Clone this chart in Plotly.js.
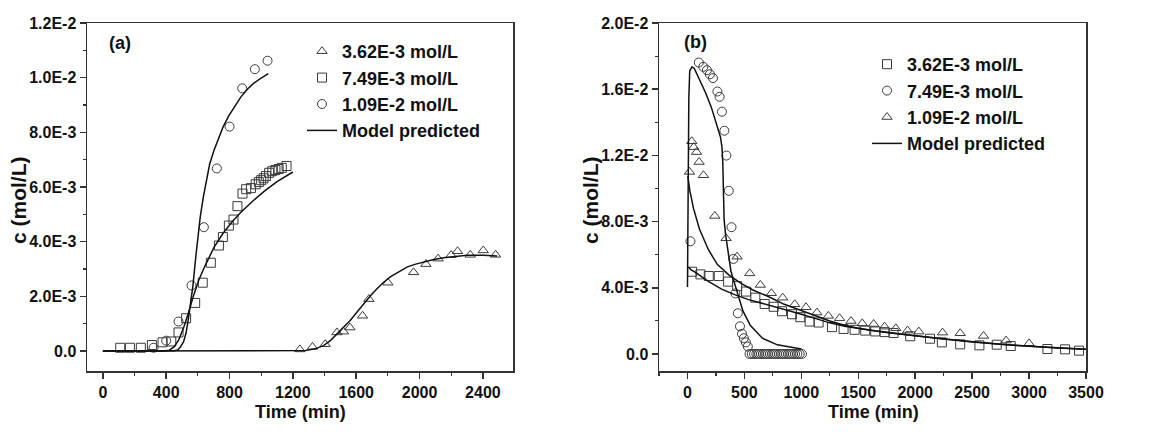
<!DOCTYPE html>
<html>
<head>
<meta charset="utf-8">
<script src="https://cdn.plot.ly/plotly-3.0.1.min.js"></script>
<style>html,body{margin:0;padding:0;background:#fff;}#chart{width:1159px;height:432px;}</style>
</head>
<body>
<div id="chart"></div>
<script>
// ---------- Panel (a): c in units of 1E-3 mol/L ----------
const aTriT = [1244,1324,1404,1478,1520,1560,1640,1680,1800,1962,2040,2117,2199,2240,2320,2402,2480];
const aTriC = [0.06,0.15,0.25,0.68,0.71,0.86,1.29,1.90,2.50,2.88,3.18,3.38,3.51,3.65,3.52,3.68,3.52];
const aSqT = [110,171,240,310,377,432,478,526,583,631,682,733,758,796,825,850,882,905,935,965,985,1000,1015,1030,1050,1070,1090,1110,1130,1160];
const aSqC = [0.12,0.12,0.12,0.22,0.32,0.35,0.68,1.20,1.76,2.50,3.23,3.86,4.17,4.59,4.81,5.30,5.76,5.92,5.96,6.10,6.18,6.25,6.32,6.40,6.52,6.58,6.62,6.66,6.70,6.77];
const aCirT = [320,400,478,560,638,720,800,880,960,1040];
const aCirC = [0.12,0.38,1.08,2.40,4.53,6.68,8.21,9.61,10.31,10.62];
const aModTriT = [0,1200,1280,1340,1394,1440,1478,1520,1562,1604,1646,1690,1731,1770,1815,1870,1920,1970,2025,2090,2152,2220,2299,2400,2490];
const aModTriC = [0,0,0.02,0.08,0.20,0.40,0.63,0.88,1.12,1.42,1.73,2.02,2.28,2.50,2.71,2.90,3.07,3.17,3.26,3.35,3.41,3.46,3.50,3.50,3.48];
const aModSqT = [0,380,420,450,480,510,540,570,606,644,701,758,815,872,949,1020,1100,1200];
const aModSqC = [0,0,0.03,0.15,0.42,0.85,1.38,1.98,2.60,3.10,3.78,4.30,4.72,5.08,5.50,5.85,6.20,6.55];
const aModCirT = [0,400,450,472,490,510,525,539,553,568,587,600,615,635,653,675,701,730,758,795,834,870,911,950,987,1020,1045];
const aModCirC = [0,0,0.01,0.04,0.15,0.34,0.65,1.13,1.70,2.35,3.45,4.15,4.90,5.65,6.23,6.85,7.33,7.80,8.18,8.60,8.97,9.28,9.57,9.78,9.94,10.06,10.15];

// ---------- Panel (b) ----------
const bSqT = [41,114,187,275,357,436,515,596,678,757,830,918,991,1073,1152,1269,1371,1468,1561,1649,1731,1810,1956,2130,2234,2395,2564,2716,2839,3161,3316,3439];
const bSqC = [4.97,4.81,4.71,4.71,4.37,4.10,3.77,3.40,3.02,2.85,2.58,2.40,2.22,1.96,1.90,1.62,1.51,1.46,1.41,1.36,1.32,1.27,1.07,0.92,0.70,0.58,0.52,0.56,0.48,0.30,0.28,0.20];
const bCirT = [26,100,139,171,197,224,263,282,303,324,342,363,387,403,421,442,461,479,495,513,530,
  545,565,585,605,625,645,665,685,705,725,745,765,785,805,825,845,865,885,905,925,945,965,985,1005];
const bCirC = [6.81,17.61,17.35,17.15,16.90,16.67,15.86,15.54,14.64,13.49,11.99,9.86,7.66,5.74,3.66,2.46,1.67,1.22,0.95,0.70,0.45,
  0,0,0,0,0,0,0,0,0,0,0,0,0,0,0,0,0,0,0,0,0,0,0,0];
const bTriT = [18,38,55,80,102,140,240,339,436,547,640,737,836,942,1041,1137,1237,1336,1436,1535,1635,1731,1830,1933,2032,2240,2395,2600,2798,3000];
const bTriC = [11.0,12.85,12.5,12.2,11.6,10.8,8.34,6.99,5.88,4.87,4.17,3.67,3.40,3.00,2.82,2.50,2.30,2.16,1.99,1.85,1.81,1.65,1.55,1.41,1.35,1.29,1.25,1.09,0.81,0.64];
const bModSqT = [8,30,80,180,300,420,530,650,780,900,1000,1120,1250,1380,1500,1650,1800,2000,2250,2500,2750,3000,3250,3500];
const bModSqC = [5.25,5.10,4.88,4.40,3.92,3.57,3.30,3.08,2.82,2.60,2.40,2.15,1.88,1.68,1.53,1.38,1.25,1.10,0.90,0.72,0.58,0.46,0.36,0.28];
const bModCirT = [0,5,12,20,40,60,105,158,210,263,290,303,310,316,322,335,355,382,421,450,487,553,658,790,1000];
const bModCirC = [4.05,9.0,15.5,17.1,17.35,17.25,16.6,15.8,14.9,13.7,13.1,12.5,11.6,9.8,8.1,7.2,6.2,5.0,4.1,3.45,2.6,1.72,0.95,0.55,0.30];
const bModTriT = [3,20,53,105,184,263,368,474,579,700,850,1000,1120,1250,1380,1500,1650,1800,2000,2250,2500,2750,3000,3250,3500];
const bModTriC = [10.75,9.9,8.8,7.55,6.3,5.4,4.75,4.25,3.85,3.5,3.0,2.62,2.32,1.99,1.74,1.56,1.40,1.26,1.10,0.90,0.72,0.58,0.46,0.36,0.28];

// ---------- labels ----------
const aXTickVals = [0,400,800,1200,1600,2000,2400];
const aXTickText = ['0','400','800','1200','1600','2000','2400'];
const aYTickVals = [0,0.002,0.004,0.006,0.008,0.010,0.012];
const aYTickText = ['0.0','2.0E-3','4.0E-3','6.0E-3','8.0E-3','1.0E-2','1.2E-2'];
const bXTickVals = [0,500,1000,1500,2000,2500,3000,3500];
const bXTickText = ['0','500','1000','1500','2000','2500','3000','3500'];
const bYTickVals = [0,0.004,0.008,0.012,0.016,0.020];
const bYTickText = ['0.0','4.0E-3','8.0E-3','1.2E-2','1.6E-2','2.0E-2'];
const aNames = ['3.62E-3 mol/L','7.49E-3 mol/L','1.09E-2 mol/L','Model predicted'];
const bNames = ['3.62E-3 mol/L','7.49E-3 mol/L','1.09E-2 mol/L','Model predicted'];

const W = 1159, H = 432;
const FONT = 'Liberation Sans, Arial, sans-serif';
const scale = arr => arr.map(v => v * 1e-3);
const bold = arr => arr.map(s => '<b>' + s + '</b>');
const mcol = '#3a3a3a';
function pts(x, y, sym, name, xa, ya, lg, show) {
  return {x: x, y: scale(y), type: 'scatter', mode: 'markers', name: name,
    xaxis: xa, yaxis: ya, legend: lg, showlegend: show,
    marker: {symbol: sym, size: 9, color: mcol, line: {color: mcol, width: 1}}};
}
function mdl(x, y, name, xa, ya, lg, show) {
  return {x: x, y: scale(y), type: 'scatter', mode: 'lines', name: name,
    xaxis: xa, yaxis: ya, legend: lg, showlegend: show,
    line: {color: '#111', width: 1.5}};
}

const traces = [
  pts(aTriT, aTriC, 'triangle-up-open', aNames[0], 'x', 'y', 'legend', true),
  pts(aSqT, aSqC, 'square-open', aNames[1], 'x', 'y', 'legend', true),
  pts(aCirT, aCirC, 'circle-open', aNames[2], 'x', 'y', 'legend', true),
  mdl(aModTriT, aModTriC, aNames[3], 'x', 'y', 'legend', true),
  mdl(aModSqT, aModSqC, aNames[3], 'x', 'y', 'legend', false),
  mdl(aModCirT, aModCirC, aNames[3], 'x', 'y', 'legend', false),
  pts(bSqT, bSqC, 'square-open', bNames[0], 'x2', 'y2', 'legend2', true),
  pts(bCirT, bCirC, 'circle-open', bNames[1], 'x2', 'y2', 'legend2', true),
  pts(bTriT, bTriC, 'triangle-up-open', bNames[2], 'x2', 'y2', 'legend2', true),
  mdl(bModSqT, bModSqC, bNames[3], 'x2', 'y2', 'legend2', true),
  mdl(bModCirT, bModCirC, bNames[3], 'x2', 'y2', 'legend2', false),
  mdl(bModTriT, bModTriC, bNames[3], 'x2', 'y2', 'legend2', false)
];

const tickFont = {family: FONT, size: 16, color: '#111', weight: 'bold'};
function axis(extra) {
  return Object.assign({
    showgrid: false, zeroline: false, showline: true, mirror: true,
    linecolor: '#333', linewidth: 1.5, ticks: 'outside', ticklen: 6, tickwidth: 1.5,
    tickcolor: '#333', tickfont: tickFont, fixedrange: true, tickmode: 'array'
  }, extra);
}
const minor = d => ({ticks: 'outside', ticklen: 3, tickwidth: 1.2, tickcolor: '#333', dtick: d, tick0: 0});
const px = v => v / W, py = v => 1 - v / H;
const titleFont = s => ({family: FONT, size: s, color: '#111', weight: 'bold'});
function ann(text, x, y, size, angle) {
  return {text: '<b>' + text + '</b>', x: px(x), y: py(y), xref: 'paper', yref: 'paper', showarrow: false,
    xanchor: 'center', yanchor: 'middle', textangle: angle || 0, font: titleFont(size)};
}

const layout = {
  width: W, height: H, margin: {l: 0, r: 0, t: 0, b: 0},
  paper_bgcolor: '#fff', plot_bgcolor: '#fff',
  font: {family: FONT, color: '#111'},
  xaxis: axis({domain: [px(87), px(513)], range: [-100, 2590],
    tickvals: aXTickVals, ticktext: bold(aXTickText), minor: minor(200), anchor: 'y'}),
  yaxis: axis({domain: [py(371), py(23)], range: [-0.00073, 0.012],
    tickvals: aYTickVals, ticktext: bold(aYTickText), minor: minor(0.001), anchor: 'x'}),
  xaxis2: axis({domain: [px(659), px(1086)], range: [-250, 3500],
    tickvals: bXTickVals, ticktext: bold(bXTickText), minor: minor(250), anchor: 'y2'}),
  yaxis2: axis({domain: [py(371), py(23)], range: [-0.00103, 0.020],
    tickvals: bYTickVals, ticktext: bold(bYTickText), minor: minor(0.002), anchor: 'x2'}),
  legend: {x: px(302), y: py(33), xanchor: 'left', yanchor: 'top', bgcolor: 'rgba(0,0,0,0)',
    borderwidth: 0, font: {family: FONT, size: 18, color: '#111', weight: 'bold'}},
  legend2: {x: px(867), y: py(46), xanchor: 'left', yanchor: 'top', bgcolor: 'rgba(0,0,0,0)',
    borderwidth: 0, font: {family: FONT, size: 18, color: '#111', weight: 'bold'}},
  annotations: [
    ann('(a)', 120, 43, 18),
    ann('(b)', 695, 42, 18),
    ann('c (mol/L)', 18, 200, 21, -90),
    ann('c (mol/L)', 590, 200, 21, -90),
    ann('Time (min)', 300, 412, 18),
    ann('Time (min)', 873, 412, 18)
  ]
};

Plotly.newPlot('chart', traces, layout, {displayModeBar: false, staticPlot: true});
</script>
</body>
</html>
